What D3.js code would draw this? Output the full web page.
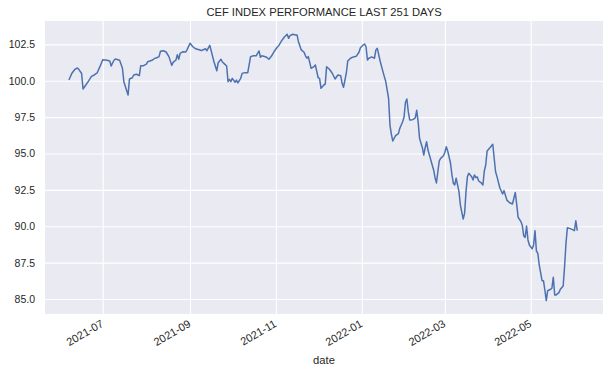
<!DOCTYPE html>
<html>
<head>
<meta charset="utf-8">
<script src="https://cdnjs.cloudflare.com/ajax/libs/d3/7.8.5/d3.min.js"></script>
<style>
body { margin: 0; background: #fff; }
text { font-family: "Liberation Sans", Arial, sans-serif; fill: #262626; }
</style>
</head>
<body>
<script>
var dates = [
    '2021-06-07','2021-06-09','2021-06-11','2021-06-13','2021-06-14','2021-06-16','2021-06-17','2021-06-19','2021-06-21','2021-06-23',
    '2021-06-25','2021-06-27','2021-06-29','2021-07-01','2021-07-04','2021-07-06','2021-07-07','2021-07-09','2021-07-10','2021-07-13',
    '2021-07-15','2021-07-16','2021-07-19','2021-07-20','2021-07-22','2021-07-23','2021-07-25','2021-07-27','2021-07-28','2021-07-30',
    '2021-08-01','2021-08-02','2021-08-05','2021-08-07','2021-08-08','2021-08-10','2021-08-11','2021-08-13','2021-08-15','2021-08-17',
    '2021-08-19','2021-08-20','2021-08-22','2021-08-23','2021-08-24','2021-08-25','2021-08-27','2021-08-29','2021-08-30','2021-09-01',
    '2021-09-03','2021-09-05','2021-09-08','2021-09-09','2021-09-10','2021-09-12','2021-09-13','2021-09-15','2021-09-16','2021-09-18',
    '2021-09-20','2021-09-21','2021-09-23','2021-09-24','2021-09-26','2021-09-27','2021-09-28','2021-09-29','2021-09-30','2021-10-01',
    '2021-10-03','2021-10-04','2021-10-05','2021-10-07','2021-10-08','2021-10-10','2021-10-12','2021-10-14','2021-10-16','2021-10-18',
    '2021-10-20','2021-10-21','2021-10-22','2021-10-25','2021-10-27','2021-10-29','2021-10-31','2021-11-02','2021-11-03','2021-11-05',
    '2021-11-07','2021-11-09','2021-11-10','2021-11-11','2021-11-13','2021-11-15','2021-11-16','2021-11-17','2021-11-19','2021-11-21',
    '2021-11-22','2021-11-23','2021-11-24','2021-11-26','2021-11-28','2021-11-29','2021-12-01','2021-12-02','2021-12-03','2021-12-05',
    '2021-12-06','2021-12-07','2021-12-09','2021-12-11','2021-12-13','2021-12-15','2021-12-17','2021-12-18','2021-12-19','2021-12-21',
    '2021-12-22','2021-12-24','2021-12-26','2021-12-28','2021-12-30','2021-12-31','2022-01-02','2022-01-03','2022-01-04','2022-01-05',
    '2022-01-06','2022-01-08','2022-01-10','2022-01-11','2022-01-12','2022-01-14','2022-01-16','2022-01-18','2022-01-19','2022-01-20',
    '2022-01-21','2022-01-22','2022-01-23','2022-01-25','2022-01-27','2022-01-28','2022-01-30','2022-01-31','2022-02-01','2022-02-02',
    '2022-02-03','2022-02-04','2022-02-06','2022-02-07','2022-02-08','2022-02-09','2022-02-10','2022-02-11','2022-02-13','2022-02-14',
    '2022-02-15','2022-02-16','2022-02-17','2022-02-19','2022-02-21','2022-02-22','2022-02-23','2022-02-24','2022-02-25','2022-02-26',
    '2022-02-28','2022-03-01','2022-03-02','2022-03-03','2022-03-05','2022-03-06','2022-03-07','2022-03-08','2022-03-09','2022-03-11',
    '2022-03-12','2022-03-14','2022-03-15','2022-03-16','2022-03-17','2022-03-18','2022-03-20','2022-03-21','2022-03-22','2022-03-23',
    '2022-03-24','2022-03-25','2022-03-27','2022-03-28','2022-03-29','2022-03-30','2022-03-31','2022-04-02','2022-04-04','2022-04-06',
    '2022-04-07','2022-04-09','2022-04-11','2022-04-12','2022-04-14','2022-04-16','2022-04-18','2022-04-20','2022-04-21','2022-04-22',
    '2022-04-24','2022-04-25','2022-04-26','2022-04-27','2022-04-28','2022-04-29','2022-04-30','2022-05-02','2022-05-03','2022-05-04',
    '2022-05-05','2022-05-06','2022-05-07','2022-05-09','2022-05-10','2022-05-11','2022-05-12','2022-05-13','2022-05-15','2022-05-16',
    '2022-05-17','2022-05-18','2022-05-19','2022-05-21','2022-05-22','2022-05-24','2022-05-25','2022-05-26','2022-05-27','2022-05-29',
    '2022-05-31','2022-06-01','2022-06-02','2022-06-03'
];
var values = [
    100.05,100.50,100.76,100.88,100.79,100.50,99.44,99.71,99.99,100.30,
    100.40,100.54,100.97,101.45,101.41,101.36,101.02,101.41,101.50,101.41,
    100.86,99.94,99.02,100.12,100.21,100.40,100.45,100.35,101.04,101.04,
    101.15,101.31,101.41,101.55,101.57,101.66,102.03,102.07,101.98,101.66,
    101.06,101.27,101.43,101.79,101.48,101.89,102.00,101.98,102.16,102.58,
    102.34,102.20,102.12,102.07,102.12,102.20,102.07,102.44,102.07,101.31,
    100.69,101.24,101.48,101.29,101.11,101.02,99.94,100.10,99.94,100.17,
    99.90,100.05,99.85,100.17,100.51,100.56,100.56,101.66,101.72,101.72,
    102.05,101.62,101.72,101.64,101.48,101.72,102.05,102.32,102.41,102.74,
    103.01,103.20,102.92,103.10,103.20,103.15,103.15,102.69,102.12,101.96,
    101.72,101.55,101.66,100.86,100.97,101.09,100.21,100.17,99.48,99.71,
    99.76,100.97,100.79,100.52,100.12,100.40,100.35,99.83,99.55,100.52,
    101.36,101.55,101.64,101.68,101.96,102.27,102.46,102.53,102.34,101.43,
    101.55,101.64,101.55,102.12,102.23,101.36,100.63,99.94,99.37,98.80,
    96.96,96.32,95.86,96.23,96.37,96.74,97.19,97.51,98.52,98.75,
    97.88,97.31,97.33,97.37,97.46,97.97,97.19,96.05,95.40,94.90,
    95.40,95.81,95.24,94.56,93.87,93.34,92.98,93.75,94.49,94.67,
    94.85,95.09,95.47,95.18,94.33,93.53,92.96,92.84,93.30,92.38,
    91.46,90.50,90.89,92.38,93.41,93.64,93.41,93.18,93.53,93.34,
    93.39,93.11,92.96,92.84,93.80,94.21,95.18,95.40,95.64,93.75,
    93.41,92.65,92.22,92.45,91.80,91.62,91.53,92.32,91.50,90.62,
    90.32,90.05,89.33,89.24,90.02,89.06,88.71,88.45,88.71,89.70,
    88.30,88.14,87.34,86.26,86.26,85.62,84.89,85.57,85.67,85.74,
    86.50,85.28,85.28,85.44,85.67,85.90,87.22,88.83,89.90,89.84,
    89.75,89.70,90.38,89.70
];
var yTicks = [85, 87.5, 90, 92.5, 95, 97.5, 100, 102.5];
var xTicks = ['2021-07-01','2021-09-01','2021-11-01','2022-01-01','2022-03-01','2022-05-01'];
var title = 'CEF INDEX PERFORMANCE LAST 251 DAYS';

var width = 615,
    height = 374,
    mLeft = 45, mRight = 603, mTop = 21, mBottom = 314,
    parse = d3.utcParse('%Y-%m-%d'),
    x = d3.scaleUtc()
        .domain([parse('2021-05-21'), new Date(Date.UTC(2022, 5, 21, 7))])
        .range([mLeft, mRight]),
    y = d3.scaleLinear()
        .domain([83.97, 104.11])
        .range([mBottom, mTop]),
    data = dates.map(function (d, i) {
        return { date: parse(d), value: values[i] };
    }),
    svg;

function init() {
    svg = d3.select('body')
        .append('svg')
        .attr('width', width)
        .attr('height', height);
    svg.append('rect')
        .attr('x', mLeft).attr('y', mTop)
        .attr('width', mRight - mLeft).attr('height', mBottom - mTop)
        .attr('fill', '#eaeaf2');
}

function axes() {
    // grid + labels, seaborn darkgrid look
    var xa = svg.append('g')
        .attr('transform', 'translate(0,' + mBottom + ')')
        .call(d3.axisBottom(x).tickValues(xTicks.map(parse)).tickSize(-(mBottom - mTop)).tickFormat(d3.utcFormat('%Y-%m')));
    xa.select('.domain').remove();
    xa.selectAll('line').attr('stroke', '#fff').attr('stroke-width', 1.1);
    xa.selectAll('text')
        .attr('font-size', '11px')
        .attr('text-anchor', 'end')
        .attr('dy', null).attr('y', 0)
        .attr('transform', 'translate(1,12) rotate(-30)');

    var ya = svg.append('g')
        .attr('transform', 'translate(' + mLeft + ',0)')
        .call(d3.axisLeft(y).tickValues(yTicks).tickSize(-(mRight - mLeft)).tickPadding(10).tickFormat(d3.format('.1f')));
    ya.select('.domain').remove();
    ya.selectAll('line').attr('stroke', '#fff').attr('stroke-width', 1.1);
    ya.selectAll('text').attr('font-size', '10.5px');

    svg.append('text')
        .attr('x', (mLeft + mRight) / 2).attr('y', 16)
        .attr('text-anchor', 'middle')
        .attr('font-size', '11.2px')
        .text(title);
    svg.append('text')
        .attr('x', (mLeft + mRight) / 2).attr('y', 364)
        .attr('text-anchor', 'middle')
        .attr('font-size', '11.2px')
        .text('date');
}

function line() {
    var l = d3.line()
        .x(function (d) { return x(d.date); })
        .y(function (d) { return y(d.value); });
    svg.append('path')
        .datum(data)
        .attr('d', l)
        .attr('fill', 'none')
        .attr('stroke', '#4c72b0')
        .attr('stroke-width', 1.5)
        .attr('stroke-linejoin', 'round');
}

init();
axes();
line();
</script>
</body>
</html>
